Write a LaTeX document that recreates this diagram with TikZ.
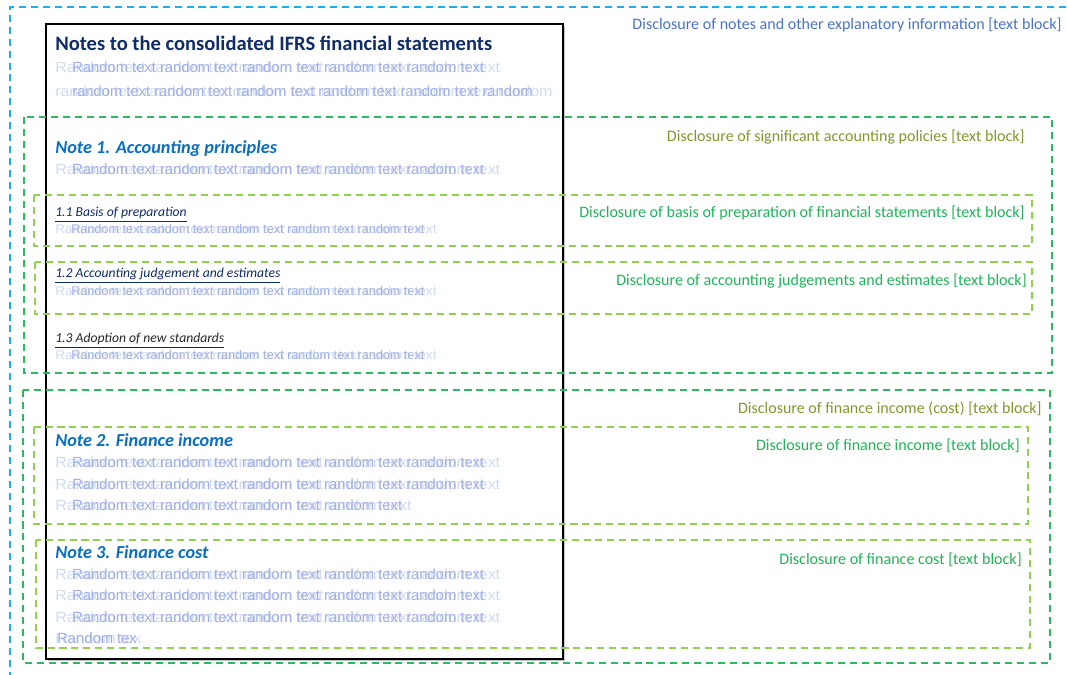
\documentclass[tikz,border=0pt]{standalone}
\usepackage{fontspec}
\setmainfont{Carlito}
\newfontfamily\rndfamily{Liberation Sans}
\usetikzlibrary{shadows}

\definecolor{cyanline}{HTML}{1CB0EA}
\definecolor{grpline}{HTML}{2DB864}
\definecolor{subline}{HTML}{92D050}
\definecolor{bluelbl}{HTML}{4A72CC}
\definecolor{olivelbl}{HTML}{7C9A2E}
\definecolor{greenlbl}{HTML}{22B25A}
\definecolor{navytxt}{HTML}{102C6A}
\definecolor{notetxt}{HTML}{0A6FC2}
\definecolor{rndmain}{HTML}{A0B0E4}
\definecolor{rndghost}{HTML}{D0DAF3}

\newcommand{\rndline}[5]{%
  \node[rndgh, font=#5] at (55,#2) {\scalebox{1.08}[1]{#3}};
  \node[rnd, font=#5] (#1) at (#4,#2) {#3};}

\begin{document}
\begin{tikzpicture}[x=0.025cm, y=-0.025cm,
  outerbox/.style={draw=cyanline, line width=0.9pt, dash pattern=on 5pt off 3.5pt},
  grpbox/.style={draw=grpline, line width=0.9pt, dash pattern=on 5pt off 3.5pt},
  subbox/.style={draw=subline, line width=0.9pt, dash pattern=on 5pt off 3.5pt},
  lbl/.style={anchor=base east, inner sep=0, font=\fontsize{11.4}{13}\selectfont},
  rnd/.style={anchor=base west, inner sep=0, text=rndmain},
  rndgh/.style={anchor=base west, inner sep=0, text=rndghost},
  head/.style={anchor=base west, inner sep=0},
]
  \useasboundingbox (0,0) rectangle (1067,675);

  \draw[outerbox] (1090,7) -- (10,7) -- (10,690);
  \node[lbl, text=bluelbl] (noteslbl) at (1062,30)
    {Disclosure of notes and other explanatory information [text block]};

  \draw[fill=white, draw=black, line width=0.8pt,
        drop shadow={shadow xshift=1.6pt, shadow yshift=-1.6pt, fill=black!45}]
    (46,24) rectangle (563,659);

  \draw[grpbox] (24,117) rectangle (1052,373);
  \draw[subbox] (34,195) rectangle (1032,246);
  \draw[subbox] (35,262) rectangle (1032,314);
  \draw[grpbox] (23,390) rectangle (1050,663);
  \draw[subbox] (34,427) rectangle (1028,524);
  \draw[subbox] (36,540) rectangle (1030,648);

  \node[lbl, text=olivelbl] (acclbl) at (1025,142)
    {Disclosure of significant accounting policies [text block]};
  \node[lbl, text=greenlbl] (baslbl) at (1025,218)
    {Disclosure of basis of preparation of financial statements [text block]};
  \node[lbl, text=greenlbl] (judlbl) at (1027,286)
    {Disclosure of accounting judgements and estimates [text block]};
  \node[lbl, text=olivelbl] (finlbl) at (1042,414)
    {Disclosure of finance income (cost) [text block]};
  \node[lbl, text=greenlbl] (inclbl) at (1020,450)
    {Disclosure of finance income [text block]};
  \node[lbl, text=greenlbl] (costlbl) at (1022,564)
    {Disclosure of finance cost [text block]};

  \node[head, text=navytxt, font=\fontsize{14.6}{17}\selectfont\bfseries] (title) at (55,51)
    {Notes to the consolidated IFRS financial statements};
  \rndline{t1}{73}{Random text random text random text random text random text}{72}{\rndfamily\fontsize{10.5}{12}\selectfont}
  \rndline{t2}{97}{random text random text random text random text random text random}{72}{\rndfamily\fontsize{10.5}{12}\selectfont}

  \node[head, text=notetxt, font=\fontsize{13}{15}\selectfont\bfseries\itshape] (note1) at (55,154)
    {Note 1. Accounting principles};
  \rndline{n1}{175}{Random text random text random text random text random text}{72}{\rndfamily\fontsize{10.5}{12}\selectfont}

  \node[head, text=navytxt, font=\fontsize{9.7}{11}\selectfont\itshape] (sub1) at (55,217)
    {\underline{1.1 Basis of preparation}};
  \rndline{s1}{234}{Random text random text random text random text random text}{71}{\rndfamily\fontsize{9}{10}\selectfont}
  \node[head, text=navytxt, font=\fontsize{9.7}{11}\selectfont\itshape] (sub2) at (55,278)
    {\underline{1.2 Accounting judgement and estimates}};
  \rndline{s2}{296}{Random text random text random text random text random text}{71}{\rndfamily\fontsize{9}{10}\selectfont}
  \node[head, text=black!85, font=\fontsize{9.7}{11}\selectfont\itshape] (sub3) at (55,343)
    {\underline{1.3 Adoption of new standards}};
  \rndline{s3}{360}{Random text random text random text random text random text}{71}{\rndfamily\fontsize{9}{10}\selectfont}

  \node[head, text=notetxt, font=\fontsize{13}{15}\selectfont\bfseries\itshape] (note2) at (55,447)
    {Note 2. Finance income};
  \foreach \yy [count=\i] in {468,489}
    {\rndline{a\i}{\yy}{Random text random text random text random text random text}{72}{\rndfamily\fontsize{10.5}{12}\selectfont}}
  \rndline{a3}{511}{Random text random text random text random text}{72}{\rndfamily\fontsize{10.5}{12}\selectfont}

  \node[head, text=notetxt, font=\fontsize{13}{15}\selectfont\bfseries\itshape] (note3) at (55,558)
    {Note 3. Finance cost};
  \foreach \yy [count=\i] in {579,600,622}
    {\rndline{c\i}{\yy}{Random text random text random text random text random text}{72}{\rndfamily\fontsize{10.5}{12}\selectfont}}
  \rndline{c4}{643}{Random tex}{57}{\rndfamily\fontsize{10.5}{12}\selectfont}
\end{tikzpicture}
\end{document}
